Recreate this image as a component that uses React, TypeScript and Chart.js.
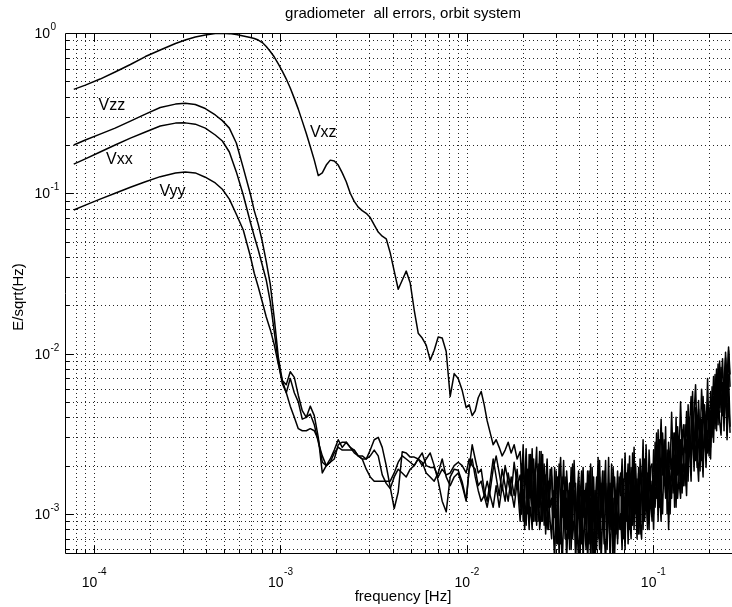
import { useEffect, useRef } from "react";
import { Chart, registerables } from "chart.js";

Chart.register(...registerables);

// ---------- data ----------
// frequencies of the smooth / low-frequency part [Hz]
const freqLow: number[] = [
  7.8e-5, 9.0e-5, 1.08e-4, 1.3e-4, 1.57e-4, 1.89e-4, 2.27e-4, 2.74e-4, 3.09e-4, 3.5e-4, 3.96e-4, 4.48e-4, 4.89e-4, 5.33e-4, 5.81e-4, 6.33e-4, 6.91e-4,
  7.25e-4, 7.62e-4, 8.01e-4, 8.41e-4, 8.84e-4, 9.29e-4, 9.76e-4, 1.025e-3, 1.077e-3, 1.131e-3,
  1.189e-3, 1.249e-3, 1.312e-3, 1.379e-3, 1.448e-3, 1.522e-3, 1.599e-3, 1.68e-3, 1.765e-3, 1.854e-3,
  1.948e-3, 2.046e-3, 2.15e-3, 2.259e-3, 2.373e-3, 2.493e-3, 2.619e-3, 2.752e-3, 2.891e-3, 3.038e-3,
  3.191e-3, 3.353e-3, 3.523e-3, 3.701e-3, 3.888e-3, 4.085e-3, 4.292e-3, 4.509e-3, 4.738e-3, 4.977e-3,
  5.229e-3, 5.494e-3, 5.772e-3, 6.064e-3, 6.371e-3, 6.694e-3, 7.033e-3, 7.389e-3, 7.763e-3, 8.156e-3,
  8.568e-3, 9.002e-3, 9.458e-3, 9.937e-3,
  1.031e-2, 1.07e-2, 1.111e-2, 1.153e-2, 1.196e-2, 1.241e-2, 1.288e-2, 1.337e-2, 1.387e-2, 1.439e-2,
  1.494e-2, 1.55e-2, 1.608e-2, 1.669e-2, 1.732e-2, 1.797e-2, 1.865e-2,
];

// frequencies of the dense noisy band [Hz]
const freqBand: number[] = [
  1.936e-2, 1.972e-2, 2.009e-2, 2.046e-2, 2.084e-2, 2.123e-2, 2.163e-2, 2.203e-2, 2.245e-2, 2.287e-2, 2.329e-2,
  2.373e-2, 2.417e-2, 2.462e-2, 2.508e-2, 2.555e-2, 2.603e-2, 2.652e-2, 2.701e-2, 2.752e-2, 2.803e-2,
  2.855e-2, 2.909e-2, 2.963e-2, 3.019e-2, 3.075e-2, 3.132e-2, 3.191e-2, 3.251e-2, 3.311e-2, 3.373e-2, 3.436e-2,
  3.501e-2, 3.566e-2, 3.633e-2, 3.7e-2, 3.77e-2, 3.84e-2, 3.912e-2, 3.985e-2, 4.059e-2, 4.135e-2, 4.213e-2, 4.291e-2,
  4.372e-2, 4.453e-2, 4.536e-2, 4.621e-2, 4.708e-2, 4.796e-2, 4.885e-2, 4.976e-2, 5.069e-2, 5.164e-2, 5.261e-2, 5.359e-2,
  5.459e-2, 5.561e-2, 5.665e-2, 5.771e-2, 5.879e-2, 5.989e-2, 6.101e-2, 6.215e-2, 6.331e-2, 6.449e-2, 6.57e-2,
  6.693e-2, 6.818e-2, 6.945e-2, 7.075e-2, 7.207e-2, 7.342e-2, 7.479e-2, 7.619e-2, 7.761e-2, 7.906e-2, 8.054e-2,
  8.204e-2, 8.358e-2, 8.514e-2, 8.673e-2, 8.835e-2, 9.0e-2, 9.168e-2, 9.34e-2, 9.514e-2, 9.692e-2,
  9.873e-2, 0.1006, 0.1025, 0.1044, 0.1064, 0.1084, 0.1104, 0.1124, 0.1146, 0.1167, 0.1189,
  0.1211, 0.1234, 0.1257, 0.128, 0.1304, 0.1328, 0.1353, 0.1379, 0.1404, 0.1431, 0.1457,
  0.1485, 0.1512, 0.1541, 0.1569, 0.1599, 0.1629, 0.1659, 0.169, 0.1722, 0.1754, 0.1786, 0.182,
  0.1854, 0.1888, 0.1924, 0.196,
  0.1996, 0.2034, 0.2072, 0.211, 0.215, 0.219, 0.2231, 0.2273, 0.2315, 0.2358, 0.2402, 0.2447, 0.2493, 0.254, 0.2587,
];

const vxzLow: number[] = [
  0.445, 0.473, 0.516, 0.571, 0.636, 0.713, 0.783, 0.86, 0.904, 0.944, 0.972, 0.993, 0.996, 0.991, 0.979, 0.958, 0.936,
  0.924, 0.904, 0.872, 0.824, 0.767, 0.708, 0.641, 0.579, 0.516, 0.454,
  0.391, 0.335, 0.282, 0.236, 0.196, 0.161, 0.129, 0.134, 0.15, 0.161,
  0.159, 0.15, 0.134, 0.118, 0.1, 0.089, 0.082, 0.078, 0.075, 0.0706,
  0.0635, 0.0573, 0.054, 0.052, 0.0425, 0.0327, 0.0252, 0.0287, 0.0327, 0.0276,
  0.0187, 0.0134, 0.0125, 0.0113, 0.0091, 0.0105, 0.0127, 0.0125, 0.0103, 0.0054,
  0.0075, 0.007, 0.0059, 0.0046,
  4.8e-3, 4.1e-3, 4.4e-3, 5.3e-3, 5.8e-3, 4.8e-3, 3.8e-3, 3.2e-3, 2.7e-3, 2.9e-3,
  2.6e-3, 2.3e-3, 2.5e-3, 2.8e-3, 2.4e-3, 2.7e-3, 2.2e-3,
];
const vxzBand: number[] = [
  2.45e-3, 1.6e-3, 2.7e-3, 1.25e-3, 2.05e-3, 1.0e-3, 2.35e-3, 1.4e-3, 2.55e-3, 1.1e-3, 1.75e-3, 2.6e-3, 0.9e-3, 1.9e-3, 1.25e-3, 2.35e-3, 0.85e-3, 1.6e-3, 2.2e-3, 1.1e-3, 1.9e-3,
  1.7e-3, 0.8e-3, 1.95e-3, 1.1e-3, 0.65e-3, 1.55e-3, 2.25e-3, 0.95e-3, 1.4e-3, 0.7e-3, 1.85e-3, 1.25e-3, 0.6e-3, 1.7e-3, 0.95e-3, 2.15e-3, 1.1e-3, 0.7e-3, 1.4e-3, 0.55e-3, 1.25e-3, 1.95e-3, 0.8e-3,
  0.6e-3, 1.4e-3, 1.85e-3, 0.8e-3, 1.25e-3, 0.5e-3, 1.1e-3, 1.7e-3, 0.7e-3, 2.15e-3, 0.95e-3, 1.4e-3, 0.65e-3, 1.55e-3, 0.95e-3, 2.25e-3, 0.8e-3, 1.25e-3, 0.55e-3, 1.7e-3, 1.1e-3, 0.7e-3, 1.4e-3,
  1.8e-3, 0.7e-3, 1.3e-3, 2.4e-3, 0.9e-3, 1.5e-3, 0.8e-3, 1.95e-3, 1.15e-3, 2.6e-3, 1.0e-3, 1.65e-3, 0.75e-3, 2.2e-3, 1.3e-3, 2.9e-3, 1.0e-3, 1.8e-3, 0.9e-3, 2.5e-3, 1.5e-3,
  1.1e-3, 2.5e-3, 1.5e-3, 3.2e-3, 1.35e-3, 2.2e-3, 3.9e-3, 1.75e-3, 2.9e-3, 2.05e-3, 1.25e-3, 2.8e-3, 1.9e-3, 4.3e-3, 2.2e-3, 3.2e-3, 1.6e-3, 3.5e-3, 2.35e-3, 5.0e-3, 2.65e-3, 3.6e-3,
  2.4e-3, 4.35e-3, 1.95e-3, 3.6e-3, 5.4e-3, 2.55e-3, 4.2e-3, 6.4e-3, 3.0e-3, 5.1e-3, 2.7e-3, 6.0e-3, 3.9e-3, 4.8e-3, 3.15e-3, 7.0e-3,
  3.0e-3, 5.8e-3, 3.9e-3, 7.2e-3, 4.6e-3, 8.0e-3, 5.5e-3, 9.0e-3, 5.9e-3, 9.3e-3, 4.8e-3, 1.02e-2, 6.8e-3, 1.1e-2, 7.4e-3,
];

const vzzLow: number[] = [
  0.2, 0.215, 0.234, 0.255, 0.282, 0.312, 0.343, 0.36, 0.364, 0.358, 0.338, 0.308, 0.284, 0.255, 0.206, 0.144, 0.099,
  0.078, 0.064, 0.05, 0.0375, 0.027, 0.0165, 0.0095, 0.0068, 0.0064, 0.0077,
  0.0071, 0.0055, 0.0044, 0.004, 0.0047, 0.0041, 0.003, 0.0018, 0.002, 0.0022,
  0.0025, 0.0029, 0.0026, 0.0028, 0.0026, 0.0025, 0.0023, 0.0023, 0.0022, 0.0025,
  0.0029, 0.003, 0.0026, 0.002, 0.00147, 0.00108, 0.00137, 0.00244, 0.0024, 0.00226,
  0.00226, 0.0022, 0.002, 0.0022, 0.0024, 0.002, 0.0016, 0.0012, 0.00103, 0.0017,
  0.0019, 0.00187, 0.00158, 0.00122,
  1.9e-3, 2.7e-3, 2.2e-3, 1.8e-3, 1.9e-3, 1.4e-3, 1.2e-3, 1.6e-3, 2.2e-3, 1.7e-3,
  1.3e-3, 1.9e-3, 1.5e-3, 1.2e-3, 1.7e-3, 1.3e-3, 1.9e-3,
];
const vzzBand: number[] = [
  1.1e-3, 2.05e-3, 0.9e-3, 1.6e-3, 2.55e-3, 1.25e-3, 0.8e-3, 1.75e-3, 1.0e-3, 2.2e-3, 1.4e-3, 0.85e-3, 1.9e-3, 1.1e-3, 2.45e-3, 0.9e-3, 1.4e-3, 0.75e-3, 1.75e-3, 1.25e-3, 0.9e-3,
  0.7e-3, 1.4e-3, 0.95e-3, 1.85e-3, 1.25e-3, 0.55e-3, 1.1e-3, 1.7e-3, 0.8e-3, 1.4e-3, 0.5e-3, 0.95e-3, 1.55e-3, 0.75e-3, 2.05e-3, 1.1e-3, 0.6e-3, 1.25e-3, 1.85e-3, 0.8e-3, 1.4e-3, 0.5e-3, 1.1e-3,
  1.55e-3, 0.5e-3, 0.95e-3, 2.05e-3, 0.7e-3, 1.4e-3, 0.45e-3, 1.25e-3, 0.95e-3, 0.6e-3, 1.55e-3, 0.8e-3, 1.85e-3, 1.1e-3, 0.6e-3, 1.4e-3, 0.5e-3, 0.95e-3, 1.95e-3, 1.25e-3, 0.75e-3, 1.55e-3, 0.95e-3,
  0.8e-3, 1.5e-3, 1.0e-3, 0.6e-3, 1.8e-3, 1.15e-3, 2.3e-3, 0.9e-3, 1.65e-3, 0.8e-3, 2.05e-3, 1.15e-3, 1.8e-3, 0.9e-3, 0.7e-3, 1.65e-3, 1.15e-3, 2.7e-3, 1.3e-3, 0.8e-3, 1.95e-3,
  2.05e-3, 1.0e-3, 2.8e-3, 1.25e-3, 3.35e-3, 1.1e-3, 1.9e-3, 2.65e-3, 1.5e-3, 3.5e-3, 1.0e-3, 2.35e-3, 1.35e-3, 2.05e-3, 3.2e-3, 1.5e-3, 4.0e-3, 1.75e-3, 2.8e-3, 1.35e-3, 3.35e-3, 1.9e-3,
  3.6e-3, 1.7e-3, 4.8e-3, 2.3e-3, 3.15e-3, 5.8e-3, 2.4e-3, 3.75e-3, 1.95e-3, 4.5e-3, 3.0e-3, 2.15e-3, 5.4e-3, 2.9e-3, 4.0e-3, 2.4e-3,
  4.6e-3, 2.6e-3, 6.2e-3, 3.6e-3, 7.4e-3, 4.2e-3, 8.6e-3, 4.6e-3, 8.2e-3, 4.1e-3, 7.0e-3, 9.4e-3, 5.0e-3, 1.04e-2, 6.2e-3,
];

const vxxLow: number[] = [
  0.152, 0.164, 0.181, 0.2, 0.221, 0.241, 0.263, 0.274, 0.275, 0.27, 0.255, 0.231, 0.212, 0.181, 0.136, 0.0975, 0.066,
  0.054, 0.0443, 0.0356, 0.0287, 0.021, 0.0136, 0.0088, 0.0065, 0.0057, 0.007,
  0.0057, 0.005, 0.0039, 0.004, 0.0042, 0.0036, 0.0028, 0.0023, 0.002, 0.0021,
  0.0022, 0.0027, 0.0028, 0.0028, 0.0026, 0.0024, 0.0023, 0.0022, 0.0022, 0.0023,
  0.0025, 0.0023, 0.00175, 0.00155, 0.00144, 0.0017, 0.0019, 0.0018, 0.0017, 0.0019,
  0.002, 0.0022, 0.0024, 0.002, 0.00195, 0.00195, 0.0017, 0.0019, 0.00175, 0.0018,
  0.002, 0.0021, 0.002, 0.0018,
  2.2e-3, 2.0e-3, 1.9e-3, 1.5e-3, 1.6e-3, 1.3e-3, 1.1e-3, 1.4e-3, 1.9e-3, 2.3e-3,
  1.8e-3, 1.4e-3, 2.0e-3, 1.6e-3, 1.3e-3, 2.1e-3, 1.5e-3,
];
const vxxBand: number[] = [
  1.75e-3, 1.0e-3, 1.4e-3, 0.8e-3, 1.25e-3, 1.9e-3, 0.9e-3, 1.1e-3, 0.8e-3, 1.6e-3, 0.9e-3, 1.25e-3, 2.05e-3, 0.8e-3, 1.0e-3, 1.4e-3, 2.05e-3, 1.0e-3, 0.8e-3, 1.6e-3, 1.1e-3,
  1.25e-3, 0.88e-3, 0.5e-3, 1.4e-3, 1.7e-3, 0.8e-3, 0.65e-3, 1.25e-3, 2.15e-3, 0.95e-3, 1.25e-3, 0.7e-3, 1.55e-3, 0.6e-3, 1.1e-3, 1.4e-3, 0.5e-3, 0.95e-3, 1.7e-3, 1.1e-3, 0.65e-3, 1.4e-3, 0.95e-3,
  0.95e-3, 1.85e-3, 0.65e-3, 1.25e-3, 0.55e-3, 1.7e-3, 0.8e-3, 1.1e-3, 2.25e-3, 0.7e-3, 1.25e-3, 1.85e-3, 0.8e-3, 0.5e-3, 1.1e-3, 1.55e-3, 0.95e-3, 2.05e-3, 0.6e-3, 0.95e-3, 1.4e-3, 0.65e-3, 1.7e-3,
  1.3e-3, 2.2e-3, 0.7e-3, 1.15e-3, 1.65e-3, 0.65e-3, 1.3e-3, 1.8e-3, 0.85e-3, 1.5e-3, 1.15e-3, 0.7e-3, 1.95e-3, 1.0e-3, 1.65e-3, 0.8e-3, 2.2e-3, 1.15e-3, 1.8e-3, 0.9e-3, 1.3e-3,
  0.9e-3, 1.75e-3, 1.1e-3, 2.05e-3, 0.9e-3, 2.9e-3, 1.5e-3, 1.0e-3, 2.35e-3, 1.35e-3, 1.9e-3, 0.8e-3, 1.6e-3, 1.25e-3, 2.65e-3, 1.1e-3, 2.05e-3, 1.25e-3, 1.75e-3, 2.9e-3, 1.35e-3, 2.35e-3,
  1.5e-3, 2.9e-3, 1.6e-3, 4.0e-3, 2.05e-3, 3.45e-3, 1.85e-3, 4.6e-3, 2.3e-3, 1.6e-3, 3.6e-3, 2.55e-3, 1.7e-3, 4.35e-3, 2.15e-3, 3.3e-3,
  2.3e-3, 4.4e-3, 3.0e-3, 5.4e-3, 3.4e-3, 6.4e-3, 3.6e-3, 7.6e-3, 4.3e-3, 6.6e-3, 3.3e-3, 8.3e-3, 3.1e-3, 7.4e-3, 3.5e-3,
];

const vyyLow: number[] = [
  0.0787, 0.0843, 0.092, 0.1, 0.109, 0.118, 0.127, 0.134, 0.136, 0.134, 0.126, 0.116, 0.106, 0.092, 0.074, 0.059, 0.0405,
  0.0317, 0.026, 0.021, 0.0169, 0.0141, 0.0113, 0.0086, 0.0068, 0.0057, 0.0047,
  0.004, 0.0034, 0.0033, 0.0033, 0.0034, 0.0033, 0.0029, 0.0021, 0.002, 0.0021,
  0.0024, 0.0026, 0.0025, 0.0025, 0.0025, 0.0025, 0.0023, 0.0022, 0.0019, 0.0017,
  0.0016, 0.0016, 0.0016, 0.0016, 0.0016, 0.0018, 0.0021, 0.0023, 0.0022, 0.0021,
  0.002, 0.0022, 0.0021, 0.0018, 0.0017, 0.0016, 0.0018, 0.0022, 0.0017, 0.0015,
  0.0017, 0.0018, 0.0015, 0.0012,
  1.9e-3, 2.2e-3, 1.7e-3, 1.4e-3, 1.2e-3, 1.3e-3, 1.6e-3, 1.3e-3, 1.1e-3, 1.5e-3,
  1.1e-3, 1.5e-3, 1.2e-3, 1.8e-3, 1.4e-3, 1.1e-3, 1.6e-3,
];
const vyyBand: number[] = [
  0.9e-3, 1.4e-3, 2.2e-3, 1.1e-3, 0.85e-3, 1.6e-3, 1.25e-3, 2.35e-3, 1.25e-3, 0.9e-3, 1.9e-3, 1.1e-3, 1.4e-3, 2.45e-3, 0.9e-3, 1.25e-3, 1.1e-3, 1.75e-3, 1.25e-3, 0.8e-3, 1.4e-3,
  1.95e-3, 1.1e-3, 1.4e-3, 0.65e-3, 0.95e-3, 2.05e-3, 1.25e-3, 0.45e-3, 0.95e-3, 1.7e-3, 0.8e-3, 1.4e-3, 0.95e-3, 1.95e-3, 0.7e-3, 0.95e-3, 1.55e-3, 0.8e-3, 0.5e-3, 1.25e-3, 1.85e-3, 0.95e-3, 1.4e-3,
  0.75e-3, 1.1e-3, 1.55e-3, 0.5e-3, 1.95e-3, 0.95e-3, 1.4e-3, 0.6e-3, 1.25e-3, 1.7e-3, 0.5e-3, 0.95e-3, 1.25e-3, 2.15e-3, 0.7e-3, 1.1e-3, 1.55e-3, 0.8e-3, 1.25e-3, 0.55e-3, 1.1e-3, 1.85e-3, 0.8e-3,
  1.0e-3, 0.6e-3, 1.65e-3, 0.9e-3, 1.3e-3, 2.05e-3, 1.0e-3, 0.7e-3, 2.4e-3, 1.15e-3, 1.65e-3, 0.9e-3, 1.3e-3, 0.75e-3, 1.5e-3, 2.3e-3, 0.9e-3, 1.3e-3, 0.8e-3, 1.95e-3, 1.15e-3,
  1.6e-3, 0.8e-3, 2.05e-3, 1.5e-3, 2.35e-3, 1.35e-3, 0.9e-3, 3.2e-3, 1.9e-3, 1.25e-3, 2.5e-3, 1.5e-3, 1.0e-3, 2.2e-3, 1.35e-3, 1.9e-3, 1.1e-3, 2.65e-3, 1.6e-3, 1.25e-3, 2.05e-3, 1.5e-3,
  2.05e-3, 1.3e-3, 3.15e-3, 2.4e-3, 1.6e-3, 4.35e-3, 3.0e-3, 2.15e-3, 3.75e-3, 2.7e-3, 1.85e-3, 3.9e-3, 2.3e-3, 3.15e-3, 1.95e-3, 4.9e-3,
  3.6e-3, 2.2e-3, 4.6e-3, 2.8e-3, 5.9e-3, 3.3e-3, 7.0e-3, 3.8e-3, 3.1e-3, 6.2e-3, 3.7e-3, 6.5e-3, 2.9e-3, 5.4e-3, 3.2e-3,
];

const seriesNames = ["Vxz", "Vzz", "Vxx", "Vyy"];
const seriesLow = [vxzLow, vzzLow, vxxLow, vyyLow];
const seriesBand = [vxzBand, vzzBand, vxxBand, vyyBand];

// curve annotations (data coordinates)
const labelTexts = ["Vzz", "Vxx", "Vyy", "Vxz"];
const labelFreqs = [1.25e-4, 1.37e-4, 2.64e-4, 1.7e-3];
const labelValues = [0.355, 0.162, 0.1025, 0.2375];

// decade tick exponents
const xTickExps = [-4, -3, -2, -1];
const yTickExps = [0, -1, -2, -3];

const titleText = "gradiometer  all errors, orbit system";
const xTitle = "frequency [Hz]";
const yTitle = "E/sqrt(Hz)";

const FONT = '"Liberation Sans", Arial, Helvetica, sans-serif';

function gridValues(min: number, max: number): number[] {
  const out: number[] = [];
  for (let e = -6; e <= 1; e++) {
    for (let m = 1; m <= 9; m++) {
      const v = m * Math.pow(10, e);
      if (v > min * 1.0001 && v < max * 0.9999) out.push(v);
    }
  }
  return out;
}

const framePlugin = {
  id: "frame",
  beforeDatasetsDraw(chart: any) {
    const { ctx, chartArea: a, scales } = chart;
    const xs = scales.x;
    const ys = scales.y;
    ctx.save();
    ctx.strokeStyle = "rgba(0,0,0,0.85)";
    ctx.lineWidth = 1;
    ctx.setLineDash([1, 3]);
    for (const v of gridValues(xs.min, xs.max)) {
      const p = Math.round(xs.getPixelForValue(v)) + 0.5;
      ctx.beginPath();
      ctx.moveTo(p, a.top);
      ctx.lineTo(p, a.bottom);
      ctx.stroke();
    }
    for (const v of gridValues(ys.min, ys.max)) {
      const p = Math.round(ys.getPixelForValue(v)) + 0.5;
      ctx.beginPath();
      ctx.moveTo(a.left, p);
      ctx.lineTo(a.right, p);
      ctx.stroke();
    }
    ctx.restore();
  },
  afterDatasetsDraw(chart: any) {
    const { ctx, chartArea: a, scales } = chart;
    const xs = scales.x;
    const ys = scales.y;
    ctx.save();
    ctx.setLineDash([]);
    ctx.strokeStyle = "#000";
    ctx.lineWidth = 1;
    const L = Math.round(a.left) + 0.5;
    const T = Math.round(a.top) + 0.5;
    const B = Math.round(a.bottom) + 0.5;
    const R = a.right;
    ctx.beginPath();
    ctx.moveTo(R, T);
    ctx.lineTo(L, T);
    ctx.lineTo(L, B);
    ctx.lineTo(R, B);
    ctx.stroke();
    const isMajor = (v: number) => Math.abs(Math.log10(v) - Math.round(Math.log10(v))) < 1e-6;
    for (const v of gridValues(xs.min, xs.max)) {
      const p = Math.round(xs.getPixelForValue(v)) + 0.5;
      const len = isMajor(v) ? 8 : 4;
      ctx.beginPath();
      ctx.moveTo(p, B);
      ctx.lineTo(p, B - len);
      ctx.moveTo(p, T);
      ctx.lineTo(p, T + len);
      ctx.stroke();
    }
    for (const v of gridValues(ys.min, ys.max)) {
      const p = Math.round(ys.getPixelForValue(v)) + 0.5;
      const len = isMajor(v) ? 8 : 4;
      ctx.beginPath();
      ctx.moveTo(L, p);
      ctx.lineTo(L + len, p);
      ctx.stroke();
    }
    ctx.restore();
  },
  afterDraw(chart: any) {
    const { ctx, chartArea: a, scales } = chart;
    const xs = scales.x;
    const ys = scales.y;
    ctx.save();
    ctx.fillStyle = "#000";
    ctx.font = `15px ${FONT}`;
    ctx.textAlign = "center";
    ctx.textBaseline = "middle";
    ctx.fillText(titleText, 403, 14);
    ctx.fillText(xTitle, 403, 597);
    ctx.save();
    ctx.translate(19, 297);
    ctx.rotate(-Math.PI / 2);
    ctx.fillText(yTitle, 0, 0);
    ctx.restore();
    // x tick labels
    ctx.textBaseline = "alphabetic";
    for (const e of xTickExps) {
      const px = xs.getPixelForValue(Math.pow(10, e));
      ctx.font = `14px ${FONT}`;
      const w1 = ctx.measureText("10").width;
      ctx.font = `10px ${FONT}`;
      const es = String(e);
      const w2 = ctx.measureText(es).width;
      const start = px - (w1 + w2) / 2;
      ctx.textAlign = "left";
      ctx.font = `14px ${FONT}`;
      ctx.fillText("10", start, a.bottom + 34);
      ctx.font = `10px ${FONT}`;
      ctx.fillText(es, start + w1 + 0.5, a.bottom + 22);
    }
    // y tick labels
    for (const e of yTickExps) {
      const py = ys.getPixelForValue(Math.pow(10, e));
      ctx.font = `14px ${FONT}`;
      ctx.textAlign = "right";
      ctx.fillText("10", a.left - 15, py + 5);
      ctx.font = `10px ${FONT}`;
      ctx.textAlign = "left";
      ctx.fillText(String(e), a.left - 14.5, py - 3);
    }
    // curve labels
    ctx.font = `16px ${FONT}`;
    ctx.textAlign = "center";
    ctx.textBaseline = "middle";
    labelTexts.forEach((t, i) => {
      ctx.fillText(t, xs.getPixelForValue(labelFreqs[i]), ys.getPixelForValue(labelValues[i]));
    });
    ctx.restore();
  },
};

export default function App() {
  const ref = useRef<HTMLCanvasElement>(null);
  useEffect(() => {
    if (!ref.current) return;
    const chart = new Chart(ref.current, {
      type: "line",
      data: {
        datasets: seriesNames.map((name, k) => {
          const freqs = [...freqLow, ...freqBand];
          const vals = [...seriesLow[k], ...seriesBand[k]];
          return {
            label: name,
            data: freqs.map((f, i) => ({ x: f, y: vals[i] })),
            borderColor: "#000",
            borderWidth: 1.5,
            pointRadius: 0,
            fill: false,
            tension: 0,
            borderJoinStyle: "round" as const,
          };
        }),
      },
      options: {
        animation: false,
        responsive: false,
        layout: { padding: { top: 33, right: 0, left: 0, bottom: 0 } },
        plugins: {
          legend: { display: false },
          title: { display: false },
          tooltip: { enabled: false },
        },
        scales: {
          x: {
            type: "logarithmic",
            min: 7e-5,
            max: 0.265,
            grid: { display: false },
            ticks: { display: false },
            border: { display: false },
            afterFit: (s: any) => {
              s.height = 54;
            },
          },
          y: {
            type: "logarithmic",
            min: 5.7e-4,
            max: 1,
            grid: { display: false },
            ticks: { display: false },
            border: { display: false },
            afterFit: (s: any) => {
              s.width = 65;
            },
          },
        },
      } as any,
      plugins: [framePlugin],
    });
    return () => chart.destroy();
  }, []);
  return (
    <div style={{ position: "absolute", left: 0, top: 0, width: 732, height: 607, background: "#fff" }}>
      <canvas ref={ref} width={732} height={607} style={{ display: "block", width: 732, height: 607 }} />
    </div>
  );
}
